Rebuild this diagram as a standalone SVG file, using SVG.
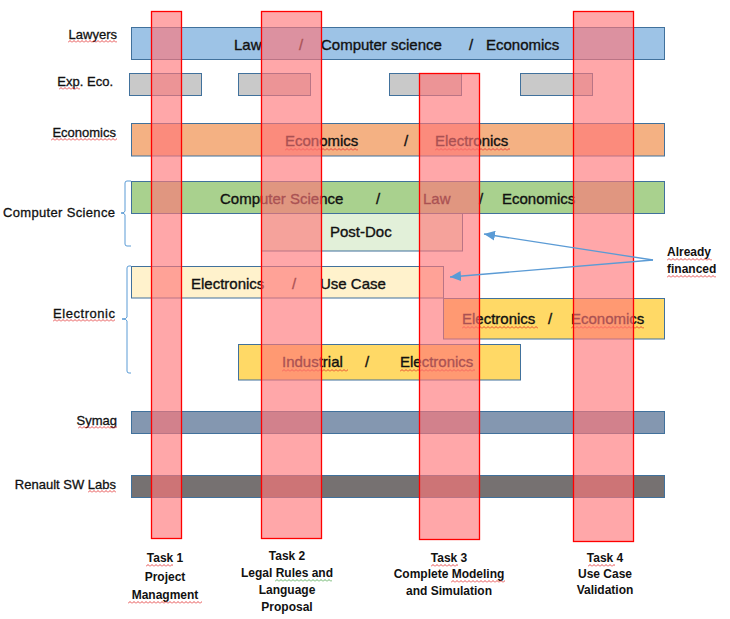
<svg xmlns="http://www.w3.org/2000/svg" width="730" height="619" viewBox="0 0 730 619">
<defs>
<style>
.bar{stroke:#41719C;stroke-width:1}
.col{fill:#FF7678;fill-opacity:0.64;stroke:#FF0000;stroke-width:1.3}
.bt{font-family:"Liberation Sans",Arial,sans-serif;font-size:15px;fill:#111;stroke:#111;stroke-width:0.35}
.lb{font-family:"Liberation Sans",Arial,sans-serif;font-size:13px;fill:#111;stroke:#111;stroke-width:0.3;text-anchor:end}
.tk{font-family:"Liberation Sans",Arial,sans-serif;font-size:12px;font-weight:bold;fill:#111;text-anchor:middle}
.af{font-family:"Liberation Sans",Arial,sans-serif;font-size:12px;font-weight:bold;fill:#111}
.br{fill:none;stroke:#5B9BD5;stroke-width:1}
.sq{fill:url(#sqr)}
.sg{fill:url(#sqg)}
.ar{stroke:#5B9BD5;stroke-width:1.3;fill:none;marker-end:url(#ah)}
</style>
<pattern id="sqr" patternUnits="userSpaceOnUse" width="4" height="3"><path d="M0,2.5 L2,0.5 L4,2.5" fill="none" stroke="#E02020" stroke-width="0.8"/></pattern>
<pattern id="sqg" patternUnits="userSpaceOnUse" width="4" height="3"><path d="M0,2.5 L2,0.5 L4,2.5" fill="none" stroke="#3A9A3A" stroke-width="0.8"/></pattern>
<marker id="ah" markerUnits="userSpaceOnUse" markerWidth="12" markerHeight="10" refX="11" refY="5" orient="auto"><path d="M0,0 L11,5 L0,10 z" fill="#5B9BD5"/></marker>
</defs>
<rect width="730" height="619" fill="#fff"/>

<g id="row-labels">
<text class="lb" x="117" y="39">Lawyers</text>
<text class="lb" x="113" y="86">Exp. Eco.</text>
<text class="lb" x="116" y="137">Economics</text>
<text class="lb" x="115" y="217" textLength="112">Computer Science</text>
<text class="lb" x="115" y="318" textLength="62">Electronic</text>
<text class="lb" x="117" y="425">Symag</text>
<text class="lb" x="116" y="489">Renault SW Labs</text>
<rect class="sq" transform="translate(68,40)" width="49" height="3"/>
<rect class="sq" transform="translate(59,87)" width="21" height="3"/>
<rect class="sq" transform="translate(51,138)" width="66" height="3"/>
<rect class="sq" transform="translate(53,319)" width="62" height="3"/>
<rect class="sq" transform="translate(78,426)" width="39" height="3"/>
<rect class="sq" transform="translate(88,490)" width="28" height="3"/>
</g>

<g id="brackets">
<path class="br" d="M131,181 L127,181 Q125,181 125,183 L125,211 Q125,213 121,213 Q125,213 125,215 L125,244 Q125,246 127,246 L131,246"/>
<path class="br" d="M131,266 L129,266 Q127,266 127,268 L127,317 Q127,319 122,319 Q127,319 127,321 L127,371 Q127,373 129,373 L131,373"/>
</g>

<g id="lawyers">
<rect class="bar" x="131.5" y="27.5" width="533" height="32" fill="#9DC3E6"/>
<text class="bt" x="234" y="50">Law</text>
<text class="bt" x="299" y="50">/</text>
<text class="bt" x="321" y="50">Computer science</text>
<text class="bt" x="469" y="50">/</text>
<text class="bt" x="486" y="50">Economics</text>
</g>

<g id="exp-eco">
<rect class="bar" x="129.5" y="73.5" width="72" height="22" fill="#C9C9C9"/>
<rect class="bar" x="238.5" y="73.5" width="72" height="22" fill="#C9C9C9"/>
<rect class="bar" x="389.5" y="73.5" width="72" height="22" fill="#C9C9C9"/>
<rect class="bar" x="520.5" y="73.5" width="72" height="22" fill="#C9C9C9"/>
</g>

<g id="economics">
<rect class="bar" x="131.5" y="123.5" width="533" height="32.5" fill="#F4B183"/>
<text class="bt" x="285" y="146">Economics</text>
<text class="bt" x="404" y="146">/</text>
<text class="bt" x="435" y="146">Electronics</text>
<rect class="sq" transform="translate(285,148)" width="73" height="3"/>
<rect class="sq" transform="translate(435,148)" width="75" height="3"/>
</g>

<g id="computer-science">
<rect class="bar" x="131.5" y="181.5" width="533" height="32" fill="#A9D18E"/>
<text class="bt" x="220" y="204">Computer Science</text>
<text class="bt" x="376" y="204">/</text>
<text class="bt" x="423" y="204">Law</text>
<text class="bt" x="479" y="204">/</text>
<text class="bt" x="502" y="204">Economics</text>
</g>

<g id="post-doc">
<rect class="bar" x="261.5" y="213.5" width="201" height="37.5" fill="#E2F0D9"/>
<text class="bt" x="330" y="237">Post-Doc</text>
</g>

<g id="electronics-usecase">
<rect class="bar" x="131.5" y="266.5" width="312" height="31.5" fill="#FFF2CC"/>
<text class="bt" x="191" y="289">Electronics</text>
<text class="bt" x="292" y="289">/</text>
<text class="bt" x="320" y="289">Use Case</text>
</g>

<g id="electronics-economics">
<rect class="bar" x="443.5" y="298.5" width="221" height="40.5" fill="#FFD966"/>
<text class="bt" x="462" y="324">Electronics</text>
<text class="bt" x="548" y="324">/</text>
<text class="bt" x="571" y="324">Economics</text>
<rect class="sq" transform="translate(462,326)" width="76" height="3"/>
<rect class="sq" transform="translate(571,326)" width="73" height="3"/>
</g>

<g id="industrial-electronics">
<rect class="bar" x="238.5" y="344.5" width="282" height="35.5" fill="#FFD966"/>
<text class="bt" x="282" y="367">Industrial</text>
<text class="bt" x="365" y="367">/</text>
<text class="bt" x="400" y="367">Electronics</text>
<rect class="sq" transform="translate(282,369)" width="66" height="3"/>
<rect class="sq" transform="translate(400,369)" width="75" height="3"/>
</g>

<g id="symag">
<rect class="bar" x="131.5" y="411.5" width="533" height="22" fill="#8497B0"/>
</g>

<g id="renault">
<rect class="bar" x="131.5" y="475.5" width="533" height="22" fill="#767171"/>
</g>

<g id="task1">
<rect class="col" x="151.5" y="11.5" width="30" height="527"/>
<text class="tk" x="165" y="562">Task 1</text>
<text class="tk" x="165" y="581">Project</text>
<text class="tk" x="165" y="599">Managment</text>
<rect class="sq" transform="translate(146,564)" width="27" height="3"/>
<rect class="sq" transform="translate(128,601)" width="74" height="3"/>
</g>

<g id="task2">
<rect class="col" x="261.5" y="11.5" width="60" height="527"/>
<text class="tk" x="287" y="560">Task 2</text>
<text class="tk" x="287" y="577">Legal Rules  and</text>
<text class="tk" x="287" y="594">Language</text>
<text class="tk" x="287" y="611">Proposal</text>
<rect class="sg" transform="translate(275,579)" width="57" height="3"/>
</g>

<g id="task3">
<rect class="col" x="419.5" y="73.5" width="60" height="466"/>
<text class="tk" x="449" y="562">Task 3</text>
<text class="tk" x="449" y="578">Complete Modeling</text>
<text class="tk" x="449" y="595">and Simulation</text>
<rect class="sq" transform="translate(431,564)" width="27" height="3"/>
<rect class="sq" transform="translate(451,580)" width="54" height="3"/>
</g>

<g id="task4">
<rect class="col" x="573.5" y="11.5" width="60" height="530"/>
<text class="tk" x="605" y="562">Task 4</text>
<text class="tk" x="605" y="578">Use Case</text>
<text class="tk" x="605" y="594">Validation</text>
<rect class="sq" transform="translate(588,564)" width="27" height="3"/>
</g>

<g id="connectors">
<line class="ar" x1="653" y1="260" x2="484" y2="234"/>
<line class="ar" x1="653" y1="260" x2="450" y2="277"/>
</g>

<g id="already-financed">
<text class="af" x="667" y="256">Already</text>
<text class="af" x="667" y="273">financed</text>
<rect class="sq" transform="translate(667,258)" width="45" height="3"/>
<rect class="sq" transform="translate(667,275)" width="49" height="3"/>
</g>
</svg>
